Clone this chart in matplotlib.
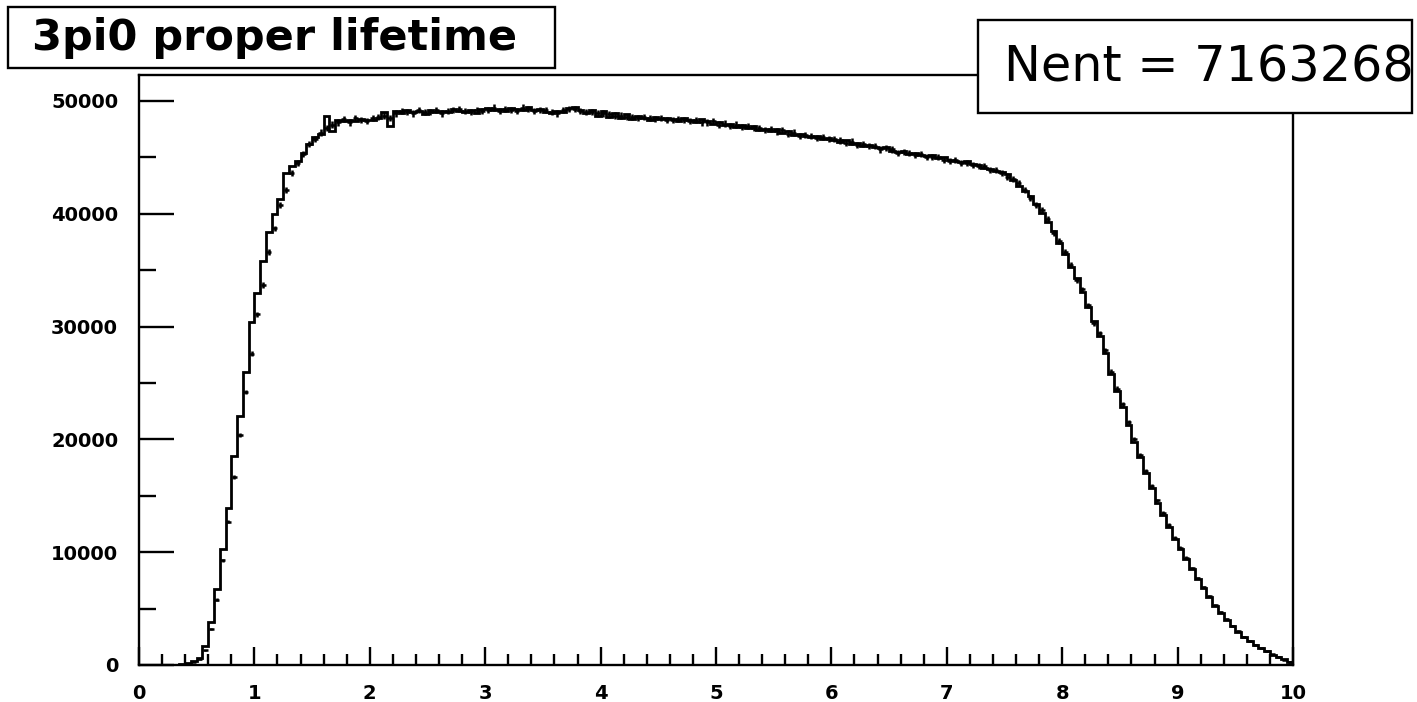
import numpy as np
import matplotlib
matplotlib.use("Agg")
import matplotlib.pyplot as plt
from matplotlib.patches import Rectangle
from matplotlib.ticker import MultipleLocator

# ---- data ----
bin_edges_lo = 0.0
bin_edges_hi = 10.0
n_bins = 200

hist_counts = [
    0, 0, 0, 0, 0, 0, 20, 60, 150, 320,
    650, 1700, 3800, 6700, 10300, 13900, 18500, 22100, 26000, 30400,
    33000, 35800, 38400, 40000, 41300, 43600, 44200, 44700, 45400, 46200,
    46800, 47100, 48700, 47300, 48300, 48200, 48300, 48250, 48400, 48300,
    48350, 48500, 49000, 47800, 49100, 48900, 49200, 49000, 49100, 48800,
    49200, 49000, 49100, 49000, 49300, 49100, 49000, 49200, 48900, 49300,
    49400, 49200, 49300, 49100, 49400, 49300, 49200, 49500, 49200, 49300,
    49000, 48900, 49100, 49000, 49400, 49500, 49200, 48900, 49200, 48700,
    49100, 48600, 48900, 48500, 48800, 48400, 48700, 48500, 48300, 48600,
    48400, 48500, 48400, 48200, 48500, 48300, 48100, 48400, 48200, 48000,
    48100, 47900, 48000, 47700, 47900, 47600, 47800, 47400, 47500, 47300,
    47500, 47200, 47300, 47000, 47100, 46900, 46800, 46900, 46600, 46700,
    46500, 46400, 46500, 46200, 46300, 46000, 46100, 45900, 45800, 45900,
    45600, 45500, 45600, 45300, 45400, 45200, 45100, 45200, 44900, 45000,
    44800, 44700, 44600, 44700, 44400, 44300, 44100, 44000, 43800, 43700,
    43500, 43000, 42500, 42000, 41600, 40900, 40100, 39300, 38500, 37400,
    36400, 35300, 34300, 33100, 31700, 30500, 29200, 27700, 25800, 24300,
    22900, 21300, 19800, 18400, 17000, 15700, 14400, 13300, 12200, 11200,
    10300, 9400, 8500, 7600, 6800, 6000, 5200, 4600, 4000, 3500,
    2900, 2500, 2100, 1800, 1500, 1200, 900, 700, 500, 250,
]

point_counts = [
    0, 0, 0, 0, 0, 0, 10, 40, 120, 250,
    500, 1300, 3200, 5800, 9300, 12700, 16700, 20400, 24200, 27600,
    31100, 33700, 36600, 38700, 40800, 42100, 43600, 44500, 45300, 46200,
    46600, 47200, 47600, 47900, 48100, 48400, 48100, 48500, 48300, 48200,
    48500, 48600, 48700, 48500, 48900, 49100, 49000, 48900, 49200, 49000,
    49000, 49200, 48900, 49100, 49200, 49300, 49100, 49000, 49200, 49100,
    49200, 49400, 49100, 49300, 49200, 49100, 49400, 49300, 49100, 49200,
    49200, 49000, 48900, 49200, 49300, 49300, 49100, 49000, 49000, 48900,
    48900, 48800, 48700, 48700, 48600, 48600, 48500, 48600, 48500, 48400,
    48500, 48300, 48300, 48400, 48300, 48200, 48300, 48100, 48100, 48200,
    47900, 48000, 47800, 47900, 47700, 47800, 47600, 47600, 47400, 47500,
    47300, 47400, 47100, 47200, 46900, 47000, 46900, 46700, 46800, 46600,
    46600, 46500, 46300, 46400, 46100, 46200, 46000, 46000, 45700, 45800,
    45700, 45400, 45500, 45400, 45200, 45300, 45000, 45000, 45000, 44800,
    44700, 44800, 44500, 44500, 44300, 44200, 44200, 43900, 43900, 43600,
    43300, 43100, 42700, 42100, 41400, 40800, 40300, 39500, 38300, 37600,
    36600, 35500, 34100, 33300, 31900, 30300, 29400, 27900, 26000, 24500,
    23100, 21500, 20000, 18600, 17200, 15900, 14600, 13500, 12400, 11300,
    10400, 9500, 8600, 7700, 6900, 6100, 5300, 4700, 4100, 3500,
    3000, 2500, 2100, 1800, 1500, 1200, 950, 700, 480, 260,
]

title_text = "3pi0 proper lifetime"
stats_text = "Nent = 7163268"
x_ticks = [0, 1, 2, 3, 4, 5, 6, 7, 8, 9, 10]
y_ticks = [0, 10000, 20000, 30000, 40000, 50000]

# ---- figure ----
W, H = 1417, 702
fig = plt.figure(figsize=(W / 100, H / 100), dpi=100)
fig.patch.set_facecolor("white")

def fx(px):
    return px / W

def fy(py):
    return 1 - py / H

ax = fig.add_axes([fx(139), fy(665), fx(1293) - fx(139), fy(75) - fy(665)])
ax.set_facecolor("white")

edges = np.linspace(bin_edges_lo, bin_edges_hi, n_bins + 1)
centers = 0.5 * (edges[:-1] + edges[1:])
hist = np.array(hist_counts, dtype=float)
pts = np.array(point_counts, dtype=float)

ax.stairs(hist, edges, color="black", linewidth=2.0, zorder=3)
mask = pts > 0
ax.errorbar(centers[mask], pts[mask], xerr=0.022, yerr=np.sqrt(pts[mask]) * 1.3,
            fmt="none", ecolor="black", elinewidth=1.8, capsize=0, zorder=4)

ax.set_xlim(0, 10)
ax.set_ylim(0, 52300)

for s in ax.spines.values():
    s.set_linewidth(1.7)
    s.set_color("black")

ax.xaxis.set_major_locator(MultipleLocator(1))
ax.xaxis.set_minor_locator(MultipleLocator(0.2))
ax.yaxis.set_major_locator(MultipleLocator(10000))
ax.yaxis.set_minor_locator(MultipleLocator(5000))
ax.set_xticks(x_ticks)
ax.set_yticks(y_ticks)
ax.set_xticklabels([str(v) for v in x_ticks])
ax.set_yticklabels([str(v) for v in y_ticks])

ax.tick_params(axis="x", which="major", direction="in", length=13, width=1.7,
               top=False, pad=14, labelsize=14)
ax.tick_params(axis="x", which="minor", direction="in", length=8, width=1.7, top=False)
ax.tick_params(axis="y", which="major", direction="in", length=25, width=1.7,
               right=False, pad=15, labelsize=14)
ax.tick_params(axis="y", which="minor", direction="in", length=12.5, width=1.7, right=False)
for lab in ax.get_xticklabels() + ax.get_yticklabels():
    lab.set_fontweight("bold")
    lab.set_family("DejaVu Sans")

# ---- title box ----
tb = Rectangle((fx(8), fy(68)), fx(555) - fx(8), fy(7) - fy(68),
               transform=fig.transFigure, facecolor="white", edgecolor="black",
               linewidth=1.7, zorder=5)
fig.patches.append(tb)
fig.text(fx(32), fy(38), title_text, fontsize=31, fontweight="bold",
         family="DejaVu Sans", ha="left", va="center", zorder=6)

# ---- stats box ----
sb = Rectangle((fx(978), fy(113)), fx(1412) - fx(978), fy(20) - fy(113),
               transform=fig.transFigure, facecolor="white", edgecolor="black",
               linewidth=1.7, zorder=5)
fig.patches.append(sb)
st = fig.text(fx(1004), fy(68), stats_text, fontsize=35.5,
              family="DejaVu Sans", ha="left", va="center", zorder=6)
st.set_clip_path(sb)

fig.savefig("out.png", dpi=100, facecolor="white")
